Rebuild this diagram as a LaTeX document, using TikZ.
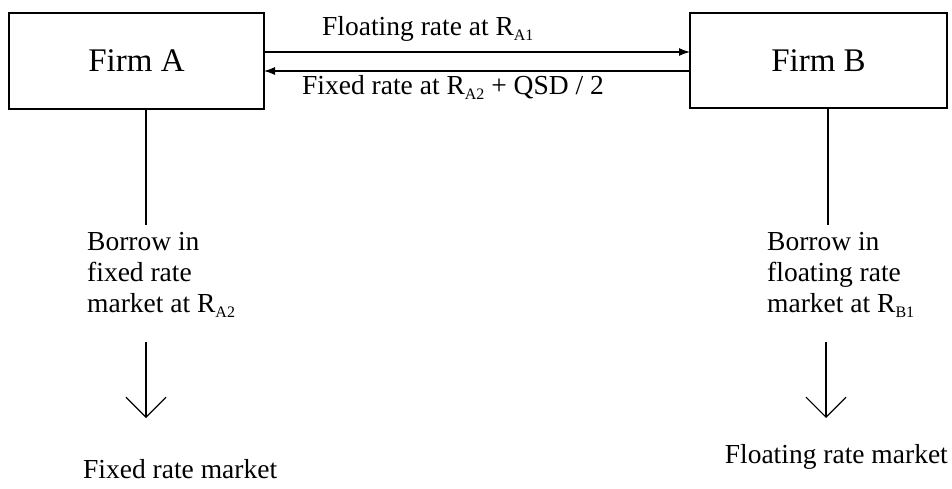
\documentclass[tikz,border=0pt]{standalone}
\usepackage{fontspec}
\setmainfont{Liberation Serif}
\usetikzlibrary{arrows.meta}
\newcommand{\rsb}[1]{\raisebox{-5pt}{\fontsize{16}{16}\selectfont #1}}
\tikzset{
  firm/.style={draw, line width=1.3pt, inner sep=0pt, font=\fontsize{33}{33}\selectfont},
  lbl/.style={inner sep=0pt, font=\fontsize{27.5}{31}\selectfont, align=left},
  conn/.style={line width=1.1pt},
  swap/.style={line width=1.1pt, -{Latex[length=11pt,width=8pt]}},
  down/.style={line width=1.1pt, -{Straight Barb[length=20pt,width=40pt,line width=1.1pt]}}
}
\begin{document}
\begin{tikzpicture}[x=1pt,y=-1pt]
\useasboundingbox (0,0) rectangle (952,489);
\node[firm, minimum width=255pt, minimum height=96pt] (A) at (136.5,61) {Firm A};
\node[firm, minimum width=257pt, minimum height=95pt] (B) at (818.5,60.5) {Firm B};
\coordinate (a1) at (264,52);
\coordinate (b1) at (690,52);
\coordinate (a2) at (264,71);
\coordinate (b2) at (690,71);
\draw[swap] (a1) -- (b1);
\draw[swap] (b2) -- (a2);
\node[lbl, anchor=base west] (t1) at (322,36) {Floating rate at R\rsb{A1}};
\node[lbl, anchor=base west] (t2) at (302,95) {Fixed rate at R\rsb{A2} + QSD / 2};
\node[lbl, anchor=base west] (ba) at (87,312) {Borrow in\\fixed rate\\market at R\rsb{A2}};
\node[lbl, anchor=base west] (bb) at (767,312) {Borrow in\\floating rate\\market at R\rsb{B1}};
\coordinate (la) at (146,225);
\coordinate (lb) at (828,225);
\draw[conn] (A.south -| la) -- (la);
\draw[conn] (B.south -| lb) -- (lb);
\coordinate (da1) at (146,342);
\coordinate (da2) at (146,418);
\coordinate (db1) at (826,342);
\coordinate (db2) at (826,418);
\draw[down] (da1) -- (da2);
\draw[down] (db1) -- (db2);
\node[lbl, anchor=base west] (ma) at (83,478) {Fixed rate market};
\node[lbl, anchor=base east] (mb) at (948,463) {Floating rate market};
\end{tikzpicture}
\end{document}
